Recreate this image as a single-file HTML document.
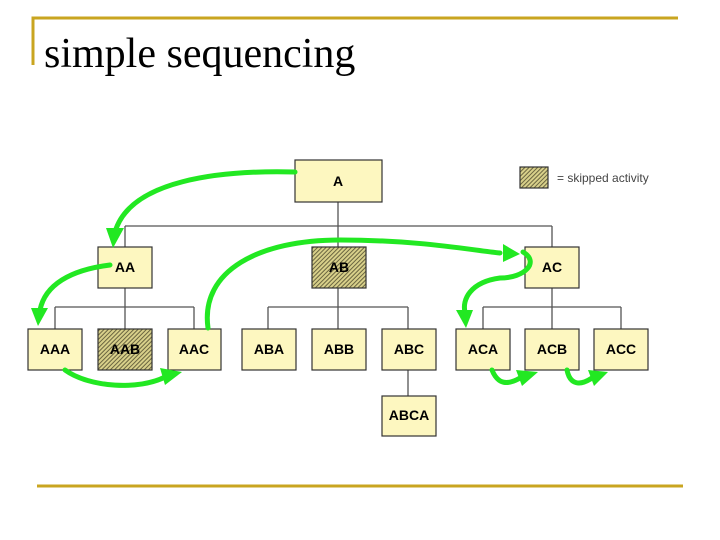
<!DOCTYPE html><html><head><style>body{margin:0;background:#fff}svg{display:block}</style></head><body>
<svg width="720" height="540" xmlns="http://www.w3.org/2000/svg">
<defs><pattern id="h" width="3" height="3" patternUnits="userSpaceOnUse" patternTransform="rotate(45)"><rect width="3" height="3" fill="#d8d08a"/><rect width="1" height="3" fill="#6a6540"/></pattern></defs>
<g stroke="#c9a520" stroke-width="3" fill="none"><path d="M33 65V18H678"/><path d="M37 486H683"/></g>
<text x="44" y="67" font-family="Liberation Serif,serif" font-size="42" fill="#000">simple sequencing</text>
<g stroke="#555" stroke-width="1.3" fill="none">
<path d="M338 202V247M125 226H552M125 226V247M552 226V247"/>
<path d="M125 288V329M55 307H194M55 307V329M194 307V329"/>
<path d="M338 288V329M268 307H408M268 307V329M408 307V396"/>
<path d="M552 288V329M483 307H621M483 307V329M621 307V329"/>
</g>
<g stroke="#333" stroke-width="1.2">
<rect x="295" y="160" width="87" height="42" fill="#fdf7c0"/>
<rect x="98" y="247" width="54" height="41" fill="#fdf7c0"/>
<rect x="312" y="247" width="54" height="41" fill="url(#h)"/>
<rect x="525" y="247" width="54" height="41" fill="#fdf7c0"/>
<rect x="28" y="329" width="54" height="41" fill="#fdf7c0"/>
<rect x="98" y="329" width="54" height="41" fill="url(#h)"/>
<rect x="168" y="329" width="53" height="41" fill="#fdf7c0"/>
<rect x="242" y="329" width="54" height="41" fill="#fdf7c0"/>
<rect x="312" y="329" width="54" height="41" fill="#fdf7c0"/>
<rect x="382" y="329" width="54" height="41" fill="#fdf7c0"/>
<rect x="456" y="329" width="54" height="41" fill="#fdf7c0"/>
<rect x="525" y="329" width="54" height="41" fill="#fdf7c0"/>
<rect x="594" y="329" width="54" height="41" fill="#fdf7c0"/>
<rect x="382" y="396" width="54" height="40" fill="#fdf7c0"/>
<rect x="520" y="167" width="28" height="21" fill="url(#h)"/>
</g>
<g font-family="Liberation Sans,sans-serif" font-weight="bold" font-size="14" text-anchor="middle">
<text x="338" y="186">A</text><text x="125" y="272">AA</text><text x="339" y="272">AB</text><text x="552" y="272">AC</text>
<text x="55" y="354">AAA</text><text x="125" y="354">AAB</text><text x="194" y="354">AAC</text><text x="269" y="354">ABA</text><text x="339" y="354">ABB</text><text x="409" y="354">ABC</text><text x="483" y="354">ACA</text><text x="552" y="354">ACB</text><text x="621" y="354">ACC</text><text x="409" y="420">ABCA</text>
</g>
<text x="557" y="182" font-family="Liberation Sans,sans-serif" font-size="12" fill="#444">= skipped activity</text>
<g stroke="#22e822" stroke-width="5" fill="none" stroke-linecap="round">
<path d="M295 172C220 170 130 180 115 232"/>
<path d="M110 265C70 270 45 285 40 310"/>
<path d="M208 328C200 270 260 240 340 240C420 240 470 250 500 253"/>
<path d="M523 252C540 262 525 278 500 278C470 282 462 300 465 312"/>
<path d="M65 370C90 388 140 390 165 377"/>
<path d="M492 370C498 385 508 385 520 378"/>
<path d="M567 370C570 385 580 386 592 378"/>
</g>
<g fill="#22e822">
<polygon points="106,228 124,228 113,248"/>
<polygon points="31,308 48,308 38,326"/>
<polygon points="503,244 503,262 520,254"/>
<polygon points="456,310 473,310 466,328"/>
<polygon points="160,368 182,372 165,385"/>
<polygon points="516,370 538,372 522,386"/>
<polygon points="588,370 608,372 594,386"/>
</g>
</svg></body></html>
